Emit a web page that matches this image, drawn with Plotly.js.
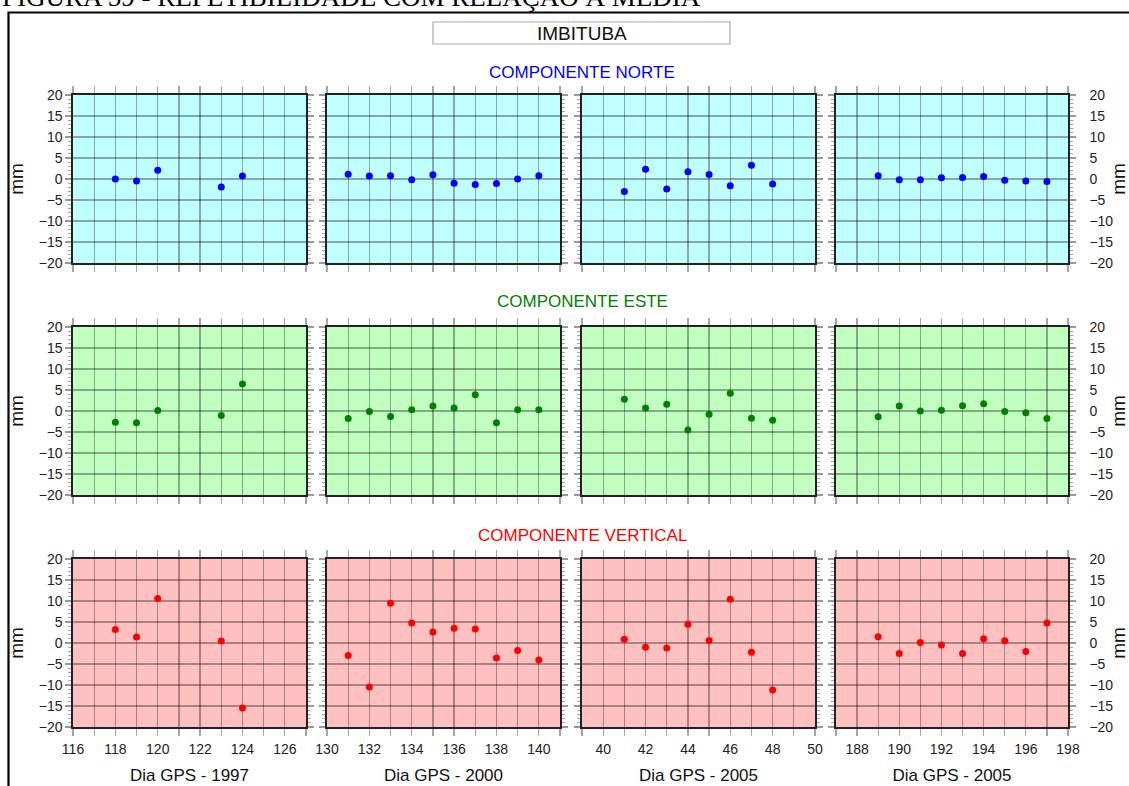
<!DOCTYPE html>
<html>
<head>
<meta charset="utf-8">
<script src="https://cdn.plot.ly/plotly-3.0.1.min.js"></script>
<style>html,body{margin:0;padding:0;background:#fff;}#chart{width:1129px;height:786px;}</style>
</head>
<body>
<div id="chart"></div>
<script>
// ---- data ----
const days1997 = [118, 119, 120, 123, 124];
const days2000 = [131, 132, 133, 134, 135, 136, 137, 138, 139, 140];
const days2005a = [41, 42, 43, 44, 45, 46, 47, 48];
const days2005b = [189, 190, 191, 192, 193, 194, 195, 196, 197];

const norte1997 = [0.0, -0.5, 2.1, -1.9, 0.7];
const norte2000 = [1.15, 0.7, 0.75, -0.2, 1.0, -1.0, -1.3, -1.1, 0.0, 0.75];
const norte2005a = [-3.0, 2.3, -2.4, 1.75, 1.1, -1.6, 3.3, -1.2];
const norte2005b = [0.75, -0.2, -0.2, 0.3, 0.35, 0.6, -0.3, -0.5, -0.6];

const este1997 = [-2.7, -2.8, 0.1, -1.1, 6.4];
const este2000 = [-1.8, -0.1, -1.3, 0.3, 1.2, 0.7, 3.85, -2.8, 0.3, 0.3];
const este2005a = [2.8, 0.7, 1.6, -4.5, -0.8, 4.2, -1.7, -2.2];
const este2005b = [-1.35, 1.2, 0.0, 0.15, 1.25, 1.75, -0.1, -0.4, -1.8];

const vert1997 = [3.2, 1.4, 10.6, 0.5, -15.5];
const vert2000 = [-3.0, -10.5, 9.45, 4.75, 2.6, 3.5, 3.35, -3.6, -1.8, -4.05];
const vert2005a = [0.9, -1.0, -1.2, 4.45, 0.6, 10.4, -2.2, -11.2];
const vert2005b = [1.5, -2.5, 0.1, -0.5, -2.5, 1.0, 0.55, -2.05, 4.75];

const xRanges = [[116, 127], [130, 141], [39, 50], [187, 198]];
const xTick0 = [116, 130, 40, 188];
const xTitles = ['Dia GPS - 1997', 'Dia GPS - 2000', 'Dia GPS - 2005', 'Dia GPS - 2005'];
const rowTitles = ['COMPONENTE NORTE', 'COMPONENTE ESTE', 'COMPONENTE VERTICAL'];
const caption = 'FIGURA 59 - REPETIBILIDADE COM RELAÇÃO À MÉDIA';
const station = 'IMBITUBA';

const dayCols = [days1997, days2000, days2005a, days2005b];
const rowData = [
  [norte1997, norte2000, norte2005a, norte2005b],
  [este1997, este2000, este2005a, este2005b],
  [vert1997, vert2000, vert2005a, vert2005b]
];

// ---- styling / layout ----
const W = 1129, H = 786;
const colPx = [[73, 306], [327, 560], [582, 815], [836, 1068]];
const rowPx = [[95, 263], [327, 495], [559, 727]];
const rowBg = ['#c0ffff', '#c0ffc0', '#ffc0c0'];
const rowMarker = ['#0000ff', '#008000', '#ff0000'];
const rowTitleY = [72, 302, 535];
const FONT = 'Liberation Sans, Arial, sans-serif';

const traces = [];
const layout = {
  width: W, height: H,
  margin: {l: 0, r: 0, t: 0, b: 0},
  paper_bgcolor: '#ffffff',
  showlegend: false,
  font: {family: FONT, color: '#222'},
  shapes: [],
  annotations: []
};

let k = 0;
for (let r = 0; r < 3; r++) {
  for (let c = 0; c < 4; c++) {
    k++;
    const sfx = (k === 1 ? '' : String(k));
    const xa = 'xaxis' + sfx;
    const ya = 'yaxis' + sfx;
    traces.push({
      type: 'scatter', mode: 'markers',
      x: dayCols[c], y: rowData[r][c],
      xaxis: 'x' + sfx, yaxis: 'y' + sfx,
      marker: {color: rowMarker[r], size: 7},
      hoverinfo: 'x+y'
    });
    const bottom = (r === 2);
    layout[xa] = {
      domain: [colPx[c][0] / W, colPx[c][1] / W],
      anchor: 'y' + sfx,
      range: xRanges[c],
      tick0: xTick0[c], dtick: 2,
      showgrid: true, gridcolor: 'rgba(0,0,0,0.33)', gridwidth: 1.2,
      zeroline: false,
      showline: true, linecolor: '#222', linewidth: 1.6, mirror: 'allticks',
      ticks: 'outside', ticklen: 7, tickcolor: 'rgba(0,0,0,0.35)', tickwidth: 1.2,
      minor: {dtick: 1, tick0: xTick0[c], ticks: 'outside', ticklen: 7, tickcolor: 'rgba(0,0,0,0.35)', tickwidth: 1.2, showgrid: true, gridcolor: 'rgba(0,0,0,0.33)', gridwidth: 1.2},
      showticklabels: bottom,
      tickfont: {family: FONT, size: 14, color: '#222'},
      ticklabelstandoff: 2,
      fixedrange: true
    };
    if (bottom) {
      layout[xa].title = {text: xTitles[c], font: {family: FONT, size: 17, color: '#111'}, standoff: 12};
    }
    const side = (c === 3) ? 'right' : 'left';
    layout[ya] = {
      domain: [1 - rowPx[r][1] / H, 1 - rowPx[r][0] / H],
      anchor: 'x' + sfx,
      range: [-20, 20], dtick: 5, tick0: 0,
      side: side,
      showgrid: true, gridcolor: 'rgba(0,0,0,0.33)', gridwidth: 1.2,
      zeroline: false,
      showline: true, linecolor: '#222', linewidth: 1.6, mirror: 'allticks',
      ticks: 'outside', ticklen: 6, tickcolor: 'rgba(0,0,0,0.4)', tickwidth: 1.2,
      minor: {dtick: 1, ticks: 'outside', ticklen: 3, tickcolor: 'rgba(0,0,0,0.35)', tickwidth: 1, showgrid: false},
      showticklabels: (c === 0 || c === 3),
      tickfont: {family: FONT, size: 14, color: '#222'},
      ticklabelstandoff: (c === 3) ? 11 : 0,
      fixedrange: true
    };
    if (c === 0 || c === 3) {
      layout[ya].title = {text: 'mm', font: {family: FONT, size: 19, color: '#111'}, standoff: (c === 3 ? 8 : 10)};
    }
    // plot background
    layout.shapes.push({
      type: 'rect', layer: 'below',
      xref: 'x' + sfx + ' domain', yref: 'y' + sfx + ' domain',
      x0: 0, x1: 1, y0: 0, y1: 1,
      fillcolor: rowBg[r], line: {width: 0}
    });
  }
  layout.annotations.push({
    xref: 'paper', yref: 'paper', x: 582 / W, y: 1 - rowTitleY[r] / H,
    xanchor: 'center', yanchor: 'middle', showarrow: false,
    text: rowTitles[r], font: {family: FONT, size: 17, color: rowMarker[r]}
  });
}

// outer frame
layout.shapes.push({
  type: 'rect', xref: 'paper', yref: 'paper', layer: 'above',
  x0: 8.5 / W, x1: 1.02, y0: -0.02, y1: 1 - 12.5 / H,
  line: {color: '#000', width: 2.2}, fillcolor: 'rgba(0,0,0,0)'
});
// station box
layout.shapes.push({
  type: 'rect', xref: 'paper', yref: 'paper',
  x0: 433 / W, x1: 730 / W, y0: 1 - 44 / H, y1: 1 - 22 / H,
  line: {color: '#aaaaaa', width: 1.2}, fillcolor: '#ffffff'
});
layout.annotations.push({
  xref: 'paper', yref: 'paper', x: 582 / W, y: 1 - 33 / H,
  xanchor: 'center', yanchor: 'middle', showarrow: false,
  text: station, font: {family: FONT, size: 19, color: '#111'}
});
// figure caption (cut at the top, as in the source scan)
layout.annotations.push({
  xref: 'paper', yref: 'paper', x: 0, y: 1 - 14 / H,
  xanchor: 'left', yanchor: 'bottom', showarrow: false,
  text: caption, font: {family: 'Liberation Serif, Times New Roman, serif', size: 27, color: '#000'}
});

Plotly.newPlot('chart', traces, layout, {staticPlot: true, displayModeBar: false});
</script>
</body>
</html>
